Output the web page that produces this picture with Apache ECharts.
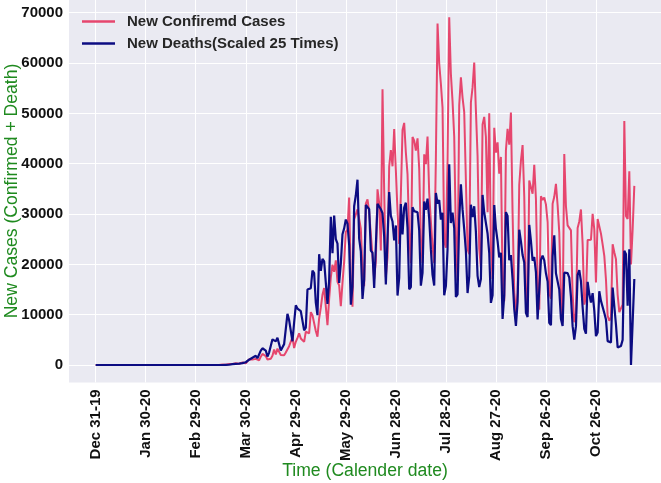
<!DOCTYPE html>
<html>
<head>
<meta charset="utf-8">
<script src="https://cdn.jsdelivr.net/npm/echarts@6/dist/echarts.min.js"></script>
<style>
html,body{margin:0;padding:0;background:#ffffff;}
#chart{width:661px;height:483px;}
</style>
</head>
<body>
<div id="chart"></div>
<script>
// Tick labels on the date axis (every 30 days from Dec 31, 2019)
const tickLabels = ['Dec 31-19','Jan 30-20','Feb 29-20','Mar 30-20','Apr 29-20','May 29-20','Jun 28-20','Jul 28-20','Aug 27-20','Sep 26-20','Oct 26-20'];
const tickDays = [0,30,60,90,120,150,180,210,240,270,300];
const yTicks = [0,10000,20000,30000,40000,50000,60000,70000];

// Daily new confirmed cases, day 0 = Dec 31, 2019
const newCases = [
0,0,0,0,0,0,0,0,0,0,0,0,0,0,0,0,0,0,0,0,0,0,0,0,0,0,0,0,0,0,
0,0,0,0,0,0,0,0,0,0,0,0,0,0,0,0,0,0,0,0,0,0,0,0,0,0,0,0,
1,0,0,1,0,0,0,1,5,5,6,6,0,9,
18,25,21,23,79,34,57,137,193,283,
224,418,345,310,232,482,502,487,352,323,
1138,1119,1074,1146,1222,852,926,1661,2210,1930,
1781,1089,1442,1261,1832,3058,2105,3257,2976,1996,
2089,1927,2498,2678,3735,3503,5514,3379,4613,5385,
6276,5281,4970,4588,6633,6935,6270,10503,9888,10222,
6760,5632,9258,11385,13944,15305,14919,7938,13140,17408,
19951,18508,20803,16508,15813,11687,16324,20599,26417,26928,
33274,16409,11598,28936,28633,30925,30830,27075,18912,15654,
32091,32913,30412,25982,21704,17110,20647,34918,32188,22765,
54771,34666,17459,21432,39436,42725,39483,46907,38693,30476,
24052,33846,46712,48105,42223,37923,26051,20229,45305,44571,
42619,45048,39023,24831,20286,41857,39924,45403,34177,28532,
23529,20257,41008,67860,59961,55891,51147,24578,23284,40816,
69074,57837,52383,45392,25800,16641,51603,57152,53139,50230,
49970,23010,22048,52160,55155,60091,50644,41576,23101,19373,
47784,49298,45323,30355,50032,23421,17078,47134,42189,44235,
38039,41350,16158,12654,42659,46934,43773,50163,30168,14521,
10273,14279,35816,40557,43718,33523,14768,10500,36653,36820,
34028,39797,33057,16389,11000,33536,32817,33281,31911,28378,
14318,13155,32058,33413,36000,31800,26300,13863,8500,41906,
31553,27749,27444,26749,14000,8500,10220,27235,28523,30914,
24062,12000,13493,24818,24858,24900,30026,26979,16400,29000,
28629,26106,23976,21700,17000,9800,8800,9500,24000,22400,
21000,14000,10500,10800,12000,48500,29600,29000,38500,20000,
27000,35600
];

// Daily new deaths, already multiplied by 25 as plotted
const newDeathsScaled = [
0,0,0,0,0,0,0,0,0,0,0,0,0,0,0,0,0,0,0,0,0,0,0,0,0,0,0,0,0,0,
0,0,0,0,0,0,0,0,0,0,0,0,0,0,0,0,0,0,0,0,0,0,0,0,0,0,0,0,0,0,
0,0,0,0,0,0,0,0,0,0,0,0,0,0,0,0,0,0,
25,75,50,125,
175,175,225,300,275,500,375,550,550,575,
1050,1000,1450,1500,1825,1350,1675,2850,3325,3525,
2875,1700,2475,2625,5100,5100,4700,5425,5150,2875,
2825,4150,4125,10175,8925,8650,4725,8450,11850,11225,
10875,10700,10525,6875,7400,15000,15375,15250,18775,18250,
12400,9900,22025,18725,21100,20600,20400,12125,16850,29475,
22200,29700,25025,24125,16325,20175,25975,27150,28900,28100,
23900,12000,15575,31550,33725,36825,25125,22600,13125,16975,
31800,31850,30975,22725,22300,15300,15675,32050,31725,30950,
30150,25550,16025,16350,34350,29625,28525,24750,27725,13800,
17300,32000,25950,31300,32250,27275,15050,15500,31350,30575,
30500,30350,26775,15775,18325,32500,30825,33050,29075,23025,
17900,15800,34175,32100,32775,28900,30275,13875,15675,23025,
39875,28225,30300,27200,13525,14025,28850,35925,30925,26975,
22625,14300,17575,31850,29375,31550,26500,17725,15500,17100,
33800,30300,30100,26125,22300,12350,13875,31775,27125,24600,
21375,22300,9150,13825,30375,29600,20850,21850,17050,11175,
7750,12600,26875,24575,21850,20350,10375,9525,27825,24675,
20725,21450,18475,9075,9425,20900,21725,20775,18225,16575,
8375,7925,21575,25775,18225,18200,14975,9150,7750,18350,
18350,18250,17375,13575,7725,5025,7725,17900,18850,16650,
11525,7175,6225,16525,14150,12425,14275,10800,5750,6475,
14650,12750,12825,10325,9050,4750,4475,4500,15400,15700,
8000,3500,3800,3800,5000,22700,22000,11800,23000,0,
8500,17100
];

const seriesNames = ['New Confiremd Cases', 'New Deaths(Scaled 25 Times)'];

// empty day slots on both ends (matplotlib-like 5% margins)
const PAD = 16;
const nDays = newCases.length;
const categories = [];
for (let i = -PAD; i < nDays + PAD; i++) categories.push(String(i));
const padded = arr => new Array(PAD).fill(null).concat(arr);

const isTick = idx => tickDays.indexOf(idx - PAD) !== -1;
const FONT = "'Liberation Sans', Arial, sans-serif";

const chart = echarts.init(document.getElementById('chart'), null, {renderer: 'canvas'});
chart.setOption({
  animation: false,
  backgroundColor: '#ffffff',
  grid: {
    left: 69, right: 0, top: 0, bottom: 100.6,
    show: true, backgroundColor: '#EAEAF2', borderWidth: 0,
    containLabel: false, outerBoundsMode: 'none'
  },
  legend: {
    orient: 'vertical', left: 77, top: 9, itemWidth: 33, itemHeight: 2.5, itemGap: 7,
    icon: 'rect',
    data: seriesNames,
    textStyle: {fontFamily: FONT, fontSize: 15, fontWeight: 'bold', color: '#262626', padding: [0,0,0,7]}
  },
  xAxis: {
    type: 'category', data: categories, boundaryGap: false,
    axisLine: {show: false}, axisTick: {show: false},
    axisLabel: {
      interval: (idx) => isTick(idx),
      formatter: (val, idx) => tickLabels[tickDays.indexOf(idx - PAD)],
      rotate: 90, margin: 7, fontFamily: FONT, fontSize: 15, fontWeight: 'bold', color: '#111111'
    },
    splitLine: {show: true, interval: (idx) => isTick(idx), lineStyle: {color: '#ffffff', width: 1}}
  },
  yAxis: {
    type: 'value', min: -3454, max: 72528,
    axisLine: {show: false},
    axisTick: {show: false, customValues: yTicks},
    axisLabel: {customValues: yTicks, formatter: v => String(v), margin: 6,
      fontFamily: FONT, fontSize: 15, fontWeight: 'bold', color: '#111111'},
    splitLine: {show: true, lineStyle: {color: '#ffffff', width: 1}}
  },
  graphic: [
    {type: 'text', x: 365, y: 471, style: {text: 'Time (Calender date)', fill: '#1f8a1f',
      font: "17.6px 'Liberation Sans', Arial, sans-serif", textAlign: 'center', textVerticalAlign: 'middle'}},
    {type: 'text', x: 12, y: 191, rotation: Math.PI / 2, style: {text: 'New Cases (Confirmed + Death)', fill: '#1f8a1f',
      font: "17.6px 'Liberation Sans', Arial, sans-serif", textAlign: 'center', textVerticalAlign: 'middle'}}
  ],
  series: [
    {name: seriesNames[0], type: 'line', data: padded(newCases), showSymbol: false, symbol: 'none',
      color: '#E6466E', lineStyle: {width: 2, color: '#E6466E'}, connectNulls: false, z: 2},
    {name: seriesNames[1], type: 'line', data: padded(newDeathsScaled), showSymbol: false, symbol: 'none',
      color: '#0C0C82', lineStyle: {width: 2.2, color: '#0C0C82'}, connectNulls: false, z: 3}
  ]
});
</script>
</body>
</html>
